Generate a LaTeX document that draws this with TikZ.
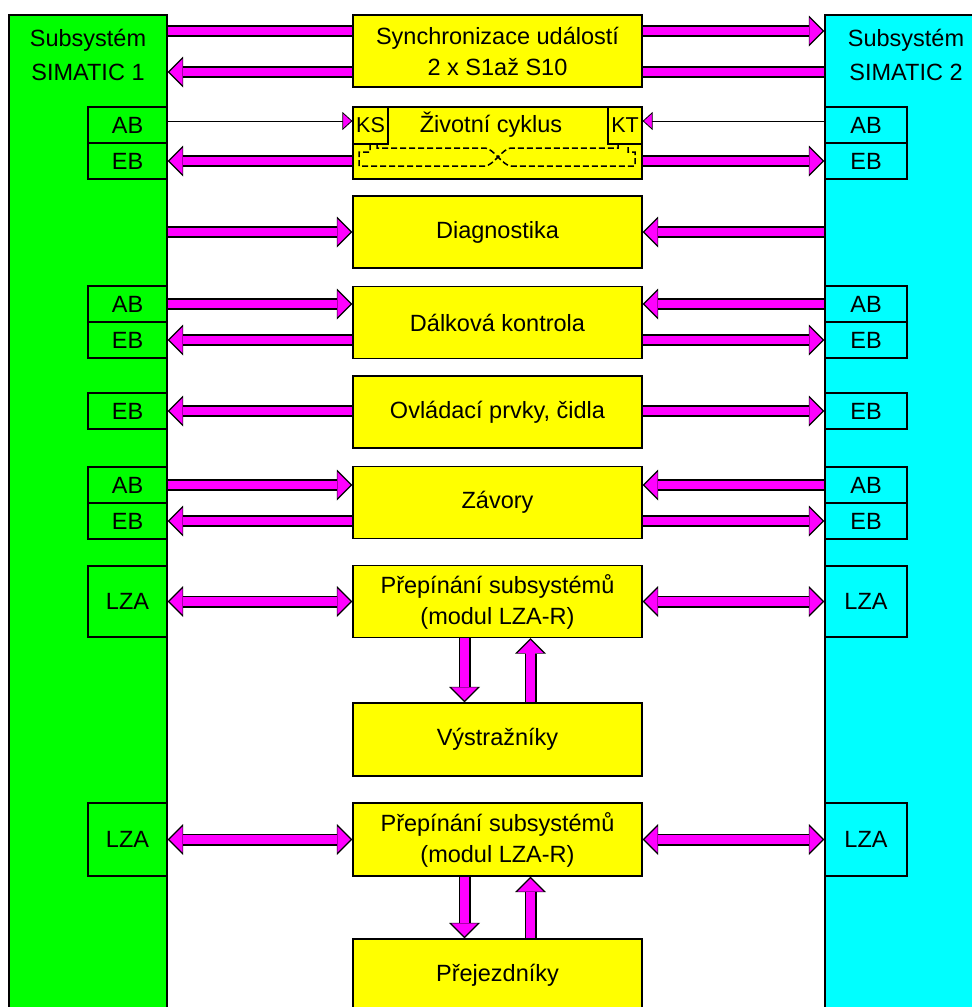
\documentclass[tikz,border=0pt]{standalone}
\usepackage{fontspec}
\setmainfont{Liberation Sans}
\usetikzlibrary{arrows.meta}
\definecolor{simgreen}{RGB}{0,255,0}
\definecolor{simcyan}{RGB}{0,255,255}
\definecolor{boxyellow}{RGB}{255,255,0}
\definecolor{busmag}{RGB}{255,0,255}

\begin{document}
\begin{tikzpicture}
      [x=1pt, y=-1pt,
      font=\fontsize{23.5}{31}\selectfont,
      sys/.style={draw=black, line width=1.2pt, minimum height=1012pt, inner sep=0pt},
      proc/.style={draw=black, fill=boxyellow, line width=1.2pt, minimum width=289pt, minimum height=72pt, inner sep=0pt, align=center},
      portl/.style={draw=black, fill=simgreen, line width=1.2pt, minimum width=79pt, minimum height=36pt, inner sep=0pt},
      portr/.style={portl, fill=simcyan, minimum width=82pt},
      sub/.style={draw=black, line width=1.2pt, minimum height=37pt, inner sep=0pt, font=\fontsize{21.5}{25}\selectfont},
      fatbar/.style={draw=busmag, line width=8.5pt, preaction={draw=black, line width=12pt}},
      fat/.style={draw=busmag, line width=8.5pt, -{Triangle[width=26pt,length=13pt,line width=0pt]}, shorten >=2pt,
        preaction={draw=black, line width=12pt, -{Triangle[width=31pt,length=15.5pt,line width=0pt]}, shorten >=0pt}},
      fatboth/.style={draw=busmag, line width=8.5pt, {Triangle[width=26pt,length=13pt,line width=0pt]}-{Triangle[width=26pt,length=13pt,line width=0pt]}, shorten >=2pt, shorten <=2pt,
        preaction={draw=black, line width=12pt, {Triangle[width=31pt,length=15.5pt,line width=0pt]}-{Triangle[width=31pt,length=15.5pt,line width=0pt]}, shorten >=0pt, shorten <=0pt}},
      sig/.style={draw=black, line width=1pt, -{Triangle[width=18pt,length=10pt,fill=busmag,line width=0.8pt]}},
      dashln/.style={draw=black, line width=1.5pt, dash pattern=on 6pt off 3pt}]
      \useasboundingbox (0,0) rectangle (972,1007);
      \clip (0,0) rectangle (972,1007);
      \node (sim1) at (88, 521) [sys, fill=simgreen, minimum width=158pt] {};
      \node (sim2) at (906, 521) [sys, fill=simcyan, minimum width=162pt] {};
      \node (tit1) at (88, 55) [align=center] {Subsystém\\[3pt]SIMATIC 1};
      \node (tit2) at (906, 55) [align=center] {Subsystém\\[3pt]SIMATIC 2};

      \node (abL1) at (127.5, 125) [portl] {AB};
      \node (ebL1) at (127.5, 161) [portl] {EB};
      \node (abL3) at (127.5, 304) [portl] {AB};
      \node (ebL3) at (127.5, 340) [portl] {EB};
      \node (ebL5) at (127.5, 411) [portl] {EB};
      \node (abL6) at (127.5, 485) [portl] {AB};
      \node (ebL6) at (127.5, 521) [portl] {EB};
      \node (lzaL7) at (127.5, 601.5) [portl, minimum height=71pt] {LZA};
      \node (lzaL9) at (127.5, 839.5) [portl, minimum height=73pt] {LZA};
      \node (abR1) at (866, 125) [portr] {AB};
      \node (ebR1) at (866, 161) [portr] {EB};
      \node (abR3) at (866, 304) [portr] {AB};
      \node (ebR3) at (866, 340) [portr] {EB};
      \node (ebR5) at (866, 411) [portr] {EB};
      \node (abR6) at (866, 485) [portr] {AB};
      \node (ebR6) at (866, 521) [portr] {EB};
      \node (lzaR7) at (866, 601.5) [portr, minimum height=71pt] {LZA};
      \node (lzaR9) at (866, 839.5) [portr, minimum height=73pt] {LZA};

      \node (sync) at (497.5, 51) [proc] {Synchronizace událostí\\2 x S1až S10};
      \node (life) at (497.5, 143) [proc] {};
      \node (ks) at (370.5, 125.5) [sub, minimum width=35pt] {KS};
      \node (kt) at (625, 125.5) [sub, minimum width=34pt] {KT};
      \node (lifet) at (491, 125) {Životní cyklus};
      \node (diag) at (497.5, 232) [proc] {Diagnostika};
      \node (dalk) at (497.5, 322.5) [proc] {Dálková kontrola};
      \node (ovl) at (497.5, 412) [proc] {Ovládací prvky, čidla};
      \node (zav) at (497.5, 502.5) [proc] {Závory};
      \node (prep1) at (497.5, 601.5) [proc] {Přepínání subsystémů\\(modul LZA-R)};
      \node (vystr) at (497.5, 739.5) [proc, minimum height=73pt] {Výstražníky};
      \node (prep2) at (497.5, 839.5) [proc, minimum height=73pt] {Přepínání subsystémů\\(modul LZA-R)};
      \node (prej) at (497.5, 975) [proc] {Přejezdníky};

      \draw[dashln] (377,144) -- (377,148) -- (485,148) .. controls (493,148) and (503,166) .. (511,166) -- (635,166) -- (635,152) -- (628,152) -- (628,144);
      \draw[dashln] (370,144) -- (370,152) -- (359,152) -- (359,166) -- (485,166) .. controls (493,166) and (503,148) .. (511,148) -- (618,148) -- (618,144);

      \coordinate (sy1) at ([yshift=20pt]sync.center);
      \coordinate (sy2) at ([yshift=-21pt]sync.center);
      \draw[fatbar] (sim1.east |- sy1) -- (sync.west |- sy1);
      \draw[fat] (sync.east |- sy1) -- (sim2.west |- sy1);
      \draw[fatbar] (sim2.west |- sy2) -- (sync.east |- sy2);
      \draw[fat] (sync.west |- sy2) -- (sim1.east |- sy2);

      \draw[sig] ([yshift=4pt]abL1.east) -- ([yshift=4pt]life.west |- abL1.east);
      \draw[sig] ([yshift=4pt]abR1.west) -- ([yshift=4pt]life.east |- abR1.west);
      \draw[fat] (life.west |- ebL1.east) -- (ebL1.east);
      \draw[fat] (life.east |- ebR1.west) -- (ebR1.west);

      \draw[fat] (sim1.east |- diag.west) -- (diag.west);
      \draw[fat] (sim2.west |- diag.east) -- (diag.east);

      \draw[fat] (abL3.east) -- (dalk.west |- abL3.east);
      \draw[fat] (dalk.west |- ebL3.east) -- (ebL3.east);
      \draw[fat] (abR3.west) -- (dalk.east |- abR3.west);
      \draw[fat] (dalk.east |- ebR3.west) -- (ebR3.west);

      \draw[fat] (ovl.west |- ebL5.east) -- (ebL5.east);
      \draw[fat] (ovl.east |- ebR5.west) -- (ebR5.west);

      \draw[fat] (abL6.east) -- (zav.west |- abL6.east);
      \draw[fat] (zav.west |- ebL6.east) -- (ebL6.east);
      \draw[fat] (abR6.west) -- (zav.east |- abR6.west);
      \draw[fat] (zav.east |- ebR6.west) -- (ebR6.west);

      \draw[fatboth] (lzaL7.east) -- (prep1.west |- lzaL7.east);
      \draw[fatboth] (prep1.east |- lzaR7.west) -- (lzaR7.west);
      \draw[fat] ([xshift=-33pt]prep1.south) -- ([xshift=-33pt]vystr.north);
      \draw[fat] ([xshift=33pt]vystr.north) -- ([xshift=33pt]prep1.south);

      \draw[fatboth] (lzaL9.east) -- (prep2.west |- lzaL9.east);
      \draw[fatboth] (prep2.east |- lzaR9.west) -- (lzaR9.west);
      \draw[fat] ([xshift=-33pt]prep2.south) -- ([xshift=-33pt]prej.north);
      \draw[fat] ([xshift=33pt]prej.north) -- ([xshift=33pt]prep2.south);
    \end{tikzpicture}
\end{document}
